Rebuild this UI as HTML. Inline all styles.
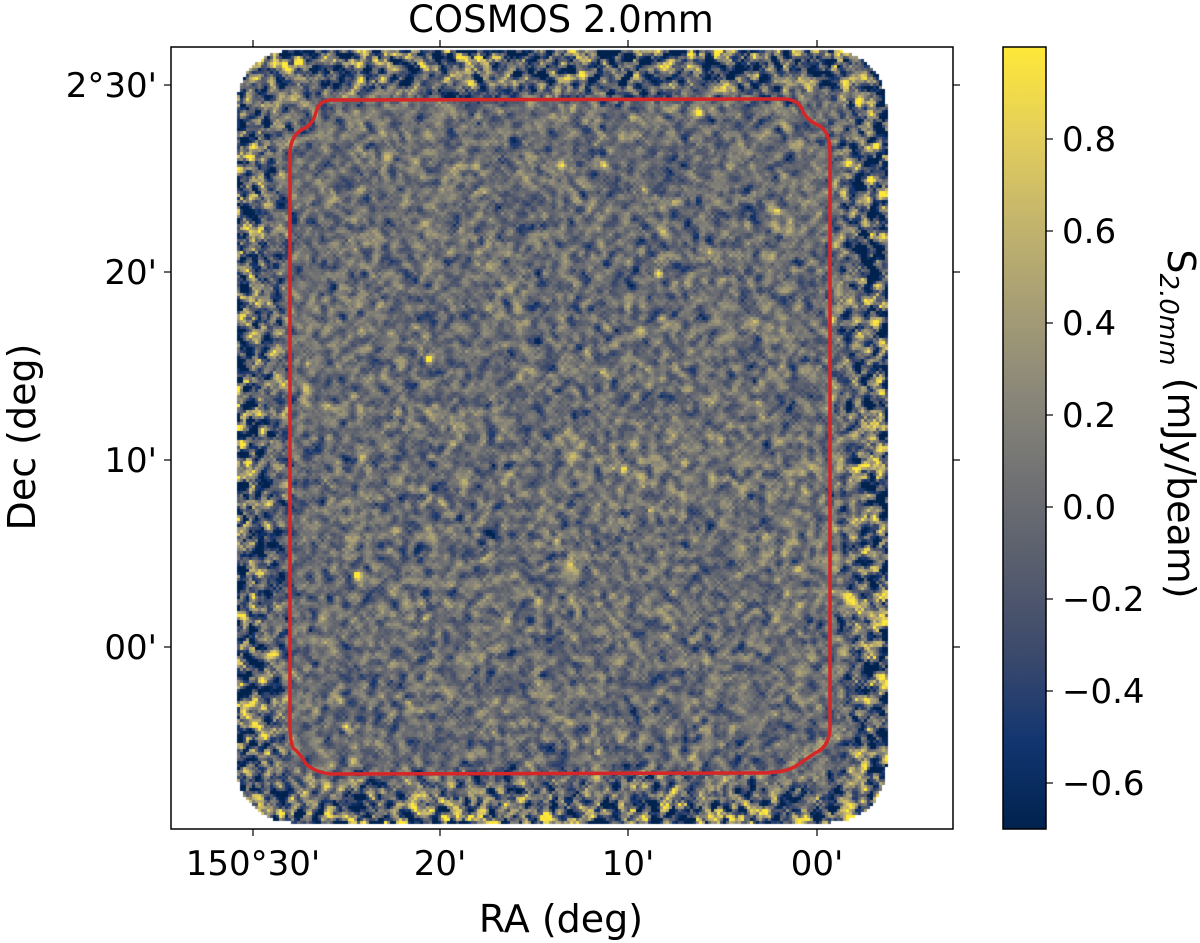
<!DOCTYPE html>
<html><head><meta charset="utf-8"><style>
body{margin:0;background:#fff;width:1200px;height:943px;overflow:hidden;font-family:"DejaVu Sans","Liberation Sans",sans-serif}
#wrap{position:relative;width:1200px;height:943px}
canvas{position:absolute}
svg{position:absolute;left:0;top:0}
</style></head><body>
<div id="wrap">
<canvas id="map" width="782" height="782" style="left:171px;top:47px"></canvas>
<svg id="svg" width="1200" height="943"></svg>
</div>
<script>
// data
const cbTicks=[0.8,0.6,0.4,0.2,0.0,-0.2,-0.4,-0.6];
const cbLabels=["0.8","0.6","0.4","0.2","0.0","\u22120.2","\u22120.4","\u22120.6"];
const decTicks=["2°30'","20'","10'","00'"];
const decPix=[85,272,460,647];
const raTicks=["150°30'","20'","10'","00'"];
const raPix=[253,440,628,817];
const srcX=[658,428,623,777,709,562,603,307,650,356,346,597,632,698];
const srcY=[273,358,469,211,251,165,164,363,510,574,726,752,118,113];
const srcFlux=[1.2,1.0,1.0,1.0,0.9,0.8,0.8,0.8,0.8,0.9,0.8,0.9,0.8,0.8];
const vmin=-0.70,vmax=1.0;
const cividis=[[0,34,78],[18,53,112],[59,73,108],[87,93,109],[112,113,115],[138,135,121],[166,157,117],[196,181,108],[228,207,91],[254,232,56],[254,232,56]];
function cmap(v){let t=(v-vmin)/(vmax-vmin);t=Math.max(0,Math.min(1,t))*9.999;const i=Math.floor(t),f=t-i;const a=cividis[i],b=cividis[i+1];return [a[0]+(b[0]-a[0])*f,a[1]+(b[1]-a[1])*f,a[2]+(b[2]-a[2])*f];}
// map (texture)
const cv=document.getElementById('map'),ctx=cv.getContext('2d');
let s=12345;function rnd(){s=(s*1664525+1013904223)>>>0;return s/4294967296;}
function gauss(){return Math.sqrt(-2*Math.log(rnd()+1e-9))*Math.cos(6.2832*rnd());}
const X0=65,Y0=3,X1=715,Y1=775,R=55,cell=3;
const W=Math.ceil(782/cell),H=Math.ceil(782/cell);
let g=[];for(let j=0;j<H;j++){g.push([]);for(let i=0;i<W;i++)g[j].push(gauss());}
let sm=[];for(let j=0;j<H;j++){sm.push([]);for(let i=0;i<W;i++){let t=0,n=0;for(let dj=-1;dj<=1;dj++)for(let di=-1;di<=1;di++){const a=g[j+dj];if(a&&a[i+di]!==undefined){const w=(di==0&&dj==0?3:1);t+=a[i+di]*w;n+=w;}}sm[j].push(t/n*1.8);}}
function inside(x,y){if(x<X0||x>X1||y<Y0||y>Y1)return false;const cx=Math.min(Math.max(x,X0+R),X1-R),cy=Math.min(Math.max(y,Y0+R),Y1-R);return (x-cx)**2+(y-cy)**2<=R*R;}
const img=ctx.createImageData(782,782);
for(let j=0;j<H;j++)for(let i=0;i<W;i++){const x=i*cell+1,y=j*cell+1;if(!inside(x,y))continue;
 const d=Math.min(x-X0,X1-x,y-Y0,Y1-y);let sig=d>60?0.27:0.27+(60-d)/60*0.6;
 let v=-0.06-(d>60?0:(60-d)/60*0.15)+sm[j][i]*sig;
 for(let k=0;k<srcX.length;k++){const dx=x+171-srcX[k],dy=y+47-srcY[k];v+=srcFlux[k]*Math.exp(-(dx*dx+dy*dy)/14);}
 const c=cmap(v);
 for(let yy=j*cell;yy<Math.min(782,j*cell+cell);yy++)for(let xx=i*cell;xx<Math.min(782,i*cell+cell);xx++){const p=(yy*782+xx)*4;img.data[p]=c[0];img.data[p+1]=c[1];img.data[p+2]=c[2];img.data[p+3]=255;}}
ctx.putImageData(img,0,0);
// svg
const svg=document.getElementById('svg'),NS='http://www.w3.org/2000/svg';
function el(t,a,p){const e=document.createElementNS(NS,t);for(const k in a)e.setAttribute(k,a[k]);(p||svg).appendChild(e);return e;}
function txt(x,y,str,size,anchor,name,extra){const e=el('text',Object.assign({x:x,y:y,'font-size':size,'text-anchor':anchor,fill:'#000'},extra||{}));e.textContent=str;return e;}
const contour=el('path',{d:"M330 100 L785 99 Q800 100 803 112 Q808 121 820 126 Q830 133 830 152 L830 730 Q828 748 815 753 Q805 760 796 766 Q785 773 760 773 L330 774 Q315 772 306 764 Q300 753 293 748 Q290 740 290 725 L290 152 Q291 134 305 128 Q313 124 316 112 Q319 101 330 100 Z",fill:'none',stroke:'#d62728','stroke-width':3.5});


const frame=el('rect',{x:171,y:47,width:782,height:782,fill:'none',stroke:'#000','stroke-width':1.5});


decTicks.forEach((l,i)=>{const y=decPix[i];el('line',{x1:164,x2:171,y1:y,y2:y,stroke:'#000','stroke-width':1.2});el('line',{x1:953,x2:960,y1:y,y2:y,stroke:'#000','stroke-width':1.2});txt(157,y+12,l,34,'end','dec-tick-label');});
raTicks.forEach((l,i)=>{const x=raPix[i];el('line',{x1:x,x2:x,y1:829,y2:836,stroke:'#000','stroke-width':1.2});el('line',{x1:x,x2:x,y1:47,y2:40,stroke:'#000','stroke-width':1.2});txt(x,875,l,34,'middle','ra-tick-label');});
txt(561,32,'COSMOS 2.0mm',37,'middle','chart-title');
txt(561,932,'RA (deg)',38,'middle','x-axis-title');
txt(35,437,'Dec (deg)',38,'middle','y-axis-title',{transform:'rotate(-90 35 437)'});
// colorbar
const defs=el('defs',{});const lg=el('linearGradient',{id:'cb',x1:0,y1:1,x2:0,y2:0},defs);
cividis.slice(0,10).forEach((c,i)=>el('stop',{offset:i/9,'stop-color':`rgb(${c.join(',')})`},lg));
const cbTop=47,cbBot=829;function cy(v){return cbBot-(v-vmin)/(vmax-vmin)*(cbBot-cbTop);}
const cb=el('rect',{x:1003,y:47,width:43,height:782,fill:'url(#cb)',stroke:'#000','stroke-width':1.5});


cbTicks.forEach((v,i)=>{const y=cy(v);el('line',{x1:1046,x2:1053,y1:y,y2:y,stroke:'#000','stroke-width':1.2});txt(1062,y+12,cbLabels[i],34,'start','colorbar-tick-label');});
const cl=txt(1168,424,'',38,'middle','colorbar-title',{transform:'rotate(90 1168 424)'});
cl.innerHTML='S<tspan font-size="26" dy="8" font-style="italic">2.0mm</tspan><tspan dy="-8"> (mJy/beam)</tspan>';
</script>
</body></html>
